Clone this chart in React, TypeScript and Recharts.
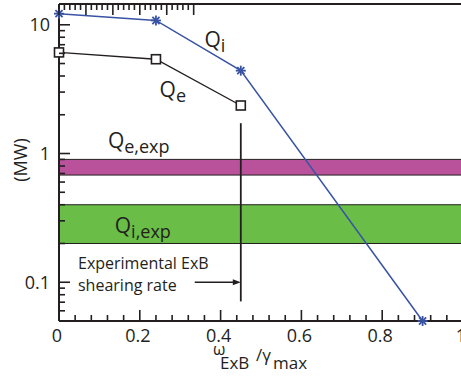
import {
  LineChart,
  Line,
  XAxis,
  YAxis,
  ReferenceArea,
  ReferenceLine,
  ReferenceDot,
  Label,
} from "recharts";

// growth-rate scan: normalised ExB shear vs. heat flux (MW)
const shearValues = [0, 0.24, 0.45, 0.9];
const qiValues = [12.2, 10.8, 4.4, 0.05];
const qeValues = [6.1, 5.4, 2.36, null];

const qeExpBand = [0.68, 0.9];
const qiExpBand = [0.2, 0.4];
const experimentalShear = 0.45;

const xMajorTicks = [0, 0.2, 0.4, 0.6, 0.8, 1];
const xAllTicks = [
  0, 0.04, 0.08, 0.12, 0.16, 0.2, 0.24, 0.28, 0.32, 0.36, 0.4, 0.44, 0.48,
  0.52, 0.56, 0.6, 0.64, 0.68, 0.72, 0.76, 0.8, 0.84, 0.88, 0.92, 0.96, 1,
];
const yMajorTicks = [0.1, 1, 10];
const yAllTicks = [
  0.06, 0.07, 0.08, 0.09, 0.1, 0.2, 0.3, 0.4, 0.5, 0.6, 0.7, 0.8, 0.9, 1, 2, 3,
  4, 5, 6, 7, 8, 9, 10,
];

const data = shearValues.map((x, i) => ({ x, qi: qiValues[i], qe: qeValues[i] }));

const INK = "#231f20";
const BLUE = "#3953a4";
const MAGENTA = "#b9529a";
const GREEN = "#6abd46";
const FONT = "'Open Sans', sans-serif";

const BottomTick = (props: any) => {
  const { x, y, payload } = props;
  const major = xMajorTicks.includes(payload.value);
  return (
    <g>
      <line x1={x} y1={y} x2={x} y2={y - (major ? 11 : 6)} stroke={INK} strokeWidth={1.6} />
      {major && (
        <text x={x - 2} y={y + 21} textAnchor="middle" fontSize={18} fontFamily={FONT} fill={INK}>
          {String(payload.value)}
        </text>
      )}
    </g>
  );
};

const TopTick = (props: any) => {
  const { x, y, payload } = props;
  const major = xMajorTicks.includes(payload.value);
  return <line x1={x} y1={y} x2={x} y2={y + (major ? 11 : 6)} stroke={INK} strokeWidth={1.6} />;
};

const LeftTick = (props: any) => {
  const { x, y, payload } = props;
  const major = yMajorTicks.includes(payload.value);
  return (
    <g>
      <line x1={x} y1={y} x2={x + (major ? 11 : 6)} y2={y} stroke={INK} strokeWidth={1.6} />
      {major && (
        <text x={x - 9} y={y + 6.5} textAnchor="end" fontSize={18} fontFamily={FONT} fill={INK}>
          {String(payload.value)}
        </text>
      )}
    </g>
  );
};

const RightTick = (props: any) => {
  const { x, y, payload } = props;
  const major = yMajorTicks.includes(payload.value);
  return <line x1={x} y1={y} x2={x - (major ? 11 : 6)} y2={y} stroke={INK} strokeWidth={1.6} />;
};

const StarDot = (props: any) => {
  const { cx, cy } = props;
  if (cx == null || cy == null) return <g />;
  const r = 5;
  const d = r * 0.71;
  return (
    <g stroke={BLUE} strokeWidth={1.8}>
      <line x1={cx - r} y1={cy} x2={cx + r} y2={cy} />
      <line x1={cx} y1={cy - r} x2={cx} y2={cy + r} />
      <line x1={cx - d} y1={cy - d} x2={cx + d} y2={cy + d} />
      <line x1={cx - d} y1={cy + d} x2={cx + d} y2={cy - d} />
    </g>
  );
};

const SquareDot = (props: any) => {
  const { cx, cy } = props;
  if (cx == null || cy == null) return <g />;
  return <rect x={cx - 4.5} y={cy - 4.5} width={9} height={9} fill="#fff" stroke={INK} strokeWidth={1.6} />;
};

const Arrow = (props: any) => {
  const { x1, y1, x2, y2 } = props;
  return (
    <g>
      <line x1={x1} y1={y1} x2={x2 - 7} y2={y2} stroke={INK} strokeWidth={1.3} />
      <polygon points={`${x2},${y2} ${x2 - 8},${y2 - 3} ${x2 - 8},${y2 + 3}`} fill={INK} />
    </g>
  );
};

// text anchors (start, baseline) in data units
const annotations = [
  { x: 0.36, y: 6.75, main: "Q", sub: "i" },
  { x: 0.249, y: 2.76, main: "Q", sub: "e" },
  { x: 0.121, y: 1.1, main: "Q", sub: "e,exp" },
  { x: 0.138, y: 0.24, main: "Q", sub: "i,exp" },
];
const noteLines = [
  { x: 0.047, y: 0.126, text: "Experimental ExB" },
  { x: 0.047, y: 0.085, text: "shearing rate" },
];

const XTitle = (props: any) => {
  const { x, y } = props.viewBox;
  return (
    <g fontFamily={FONT} fill={INK}>
      <text x={x + 154} y={y + 34} fontSize={16}>ω</text>
      <text x={x + 161} y={y + 48} fontSize={17}>ExB</text>
      <text x={x + 197} y={y + 40} fontSize={17}>/γ</text>
      <text x={x + 214} y={y + 48} fontSize={17}>max</text>
    </g>
  );
};

const YTitle = (props: any) => {
  const { x } = props.viewBox;
  const cx = x - 38;
  return (
    <text
      x={cx}
      y={160}
      transform={`rotate(-90, ${cx}, 160)`}
      textAnchor="middle"
      dominantBaseline="central"
      fontSize={18}
      fontFamily={FONT}
      fill={INK}
    >
      (MW)
    </text>
  );
};

export default function App() {
  return (
    <div style={{ position: "absolute", left: 0, top: 0, width: 461, height: 383, overflow: "hidden", background: "#fff" }}>
      <LineChart width={470} height={383} data={data} margin={{ top: 3, right: 6, bottom: 61, left: 58 }}>
        <ReferenceArea y1={qeExpBand[0]} y2={qeExpBand[1]} fill={MAGENTA} fillOpacity={1} stroke={INK} strokeWidth={1} />
        <ReferenceArea y1={qiExpBand[0]} y2={qiExpBand[1]} fill={GREEN} fillOpacity={1} stroke={INK} strokeWidth={1} />
        <XAxis
          dataKey="x"
          type="number"
          domain={[0, 1]}
          ticks={xAllTicks}
          interval={0}
          height={1}
          tickSize={0}
          tickMargin={0}
          tickLine={false}
          tick={BottomTick}
          axisLine={{ stroke: INK, strokeWidth: 2 }}
        >
          <Label content={XTitle} />
        </XAxis>
        <XAxis
          xAxisId="top"
          orientation="top"
          type="number"
          domain={[0, 1]}
          ticks={xAllTicks}
          interval={0}
          height={1}
          tickSize={0}
          tickMargin={0}
          tickLine={false}
          tick={TopTick}
          axisLine={{ stroke: INK, strokeWidth: 2 }}
        />
        <YAxis
          type="number"
          scale="log"
          domain={[0.05, 14.5]}
          ticks={yAllTicks}
          interval={0}
          width={1}
          tickSize={0}
          tickMargin={0}
          tickLine={false}
          tick={LeftTick}
          axisLine={{ stroke: INK, strokeWidth: 2 }}
        >
          <Label content={YTitle} />
        </YAxis>
        <YAxis
          yAxisId="right"
          orientation="right"
          type="number"
          scale="log"
          domain={[0.05, 14.5]}
          ticks={yAllTicks}
          interval={0}
          width={1}
          tickSize={0}
          tickMargin={0}
          tickLine={false}
          tick={RightTick}
          axisLine={{ stroke: INK, strokeWidth: 2 }}
        />
        <ReferenceLine
          segment={[
            { x: experimentalShear, y: 1.72 },
            { x: experimentalShear, y: 0.071 },
          ]}
          stroke={INK}
          strokeWidth={1.8}
        />
        <ReferenceLine
          segment={[
            { x: 0.336, y: 0.1 },
            { x: experimentalShear, y: 0.1 },
          ]}
          shape={Arrow}
        />
        <Line dataKey="qi" stroke={BLUE} strokeWidth={1.5} dot={StarDot} isAnimationActive={false} />
        <Line dataKey="qe" stroke={INK} strokeWidth={1.4} dot={SquareDot} isAnimationActive={false} />
        {annotations.map((a, i) => (
          <ReferenceDot
            key={"a" + i}
            x={a.x}
            y={a.y}
            r={0}
            shape={(p: any) => (
              <text x={p.cx} y={p.cy} fontFamily={FONT} fill={INK}>
                <tspan fontSize={21}>{a.main}</tspan>
                <tspan fontSize={18} dy={5}>{a.sub}</tspan>
              </text>
            )}
          />
        ))}
        {noteLines.map((n, i) => (
          <ReferenceDot
            key={"n" + i}
            x={n.x}
            y={n.y}
            r={0}
            shape={(p: any) => (
              <text x={p.cx} y={p.cy} fontSize={16} fontFamily={FONT} fill={INK}>
                {n.text}
              </text>
            )}
          />
        ))}
      </LineChart>
    </div>
  );
}
